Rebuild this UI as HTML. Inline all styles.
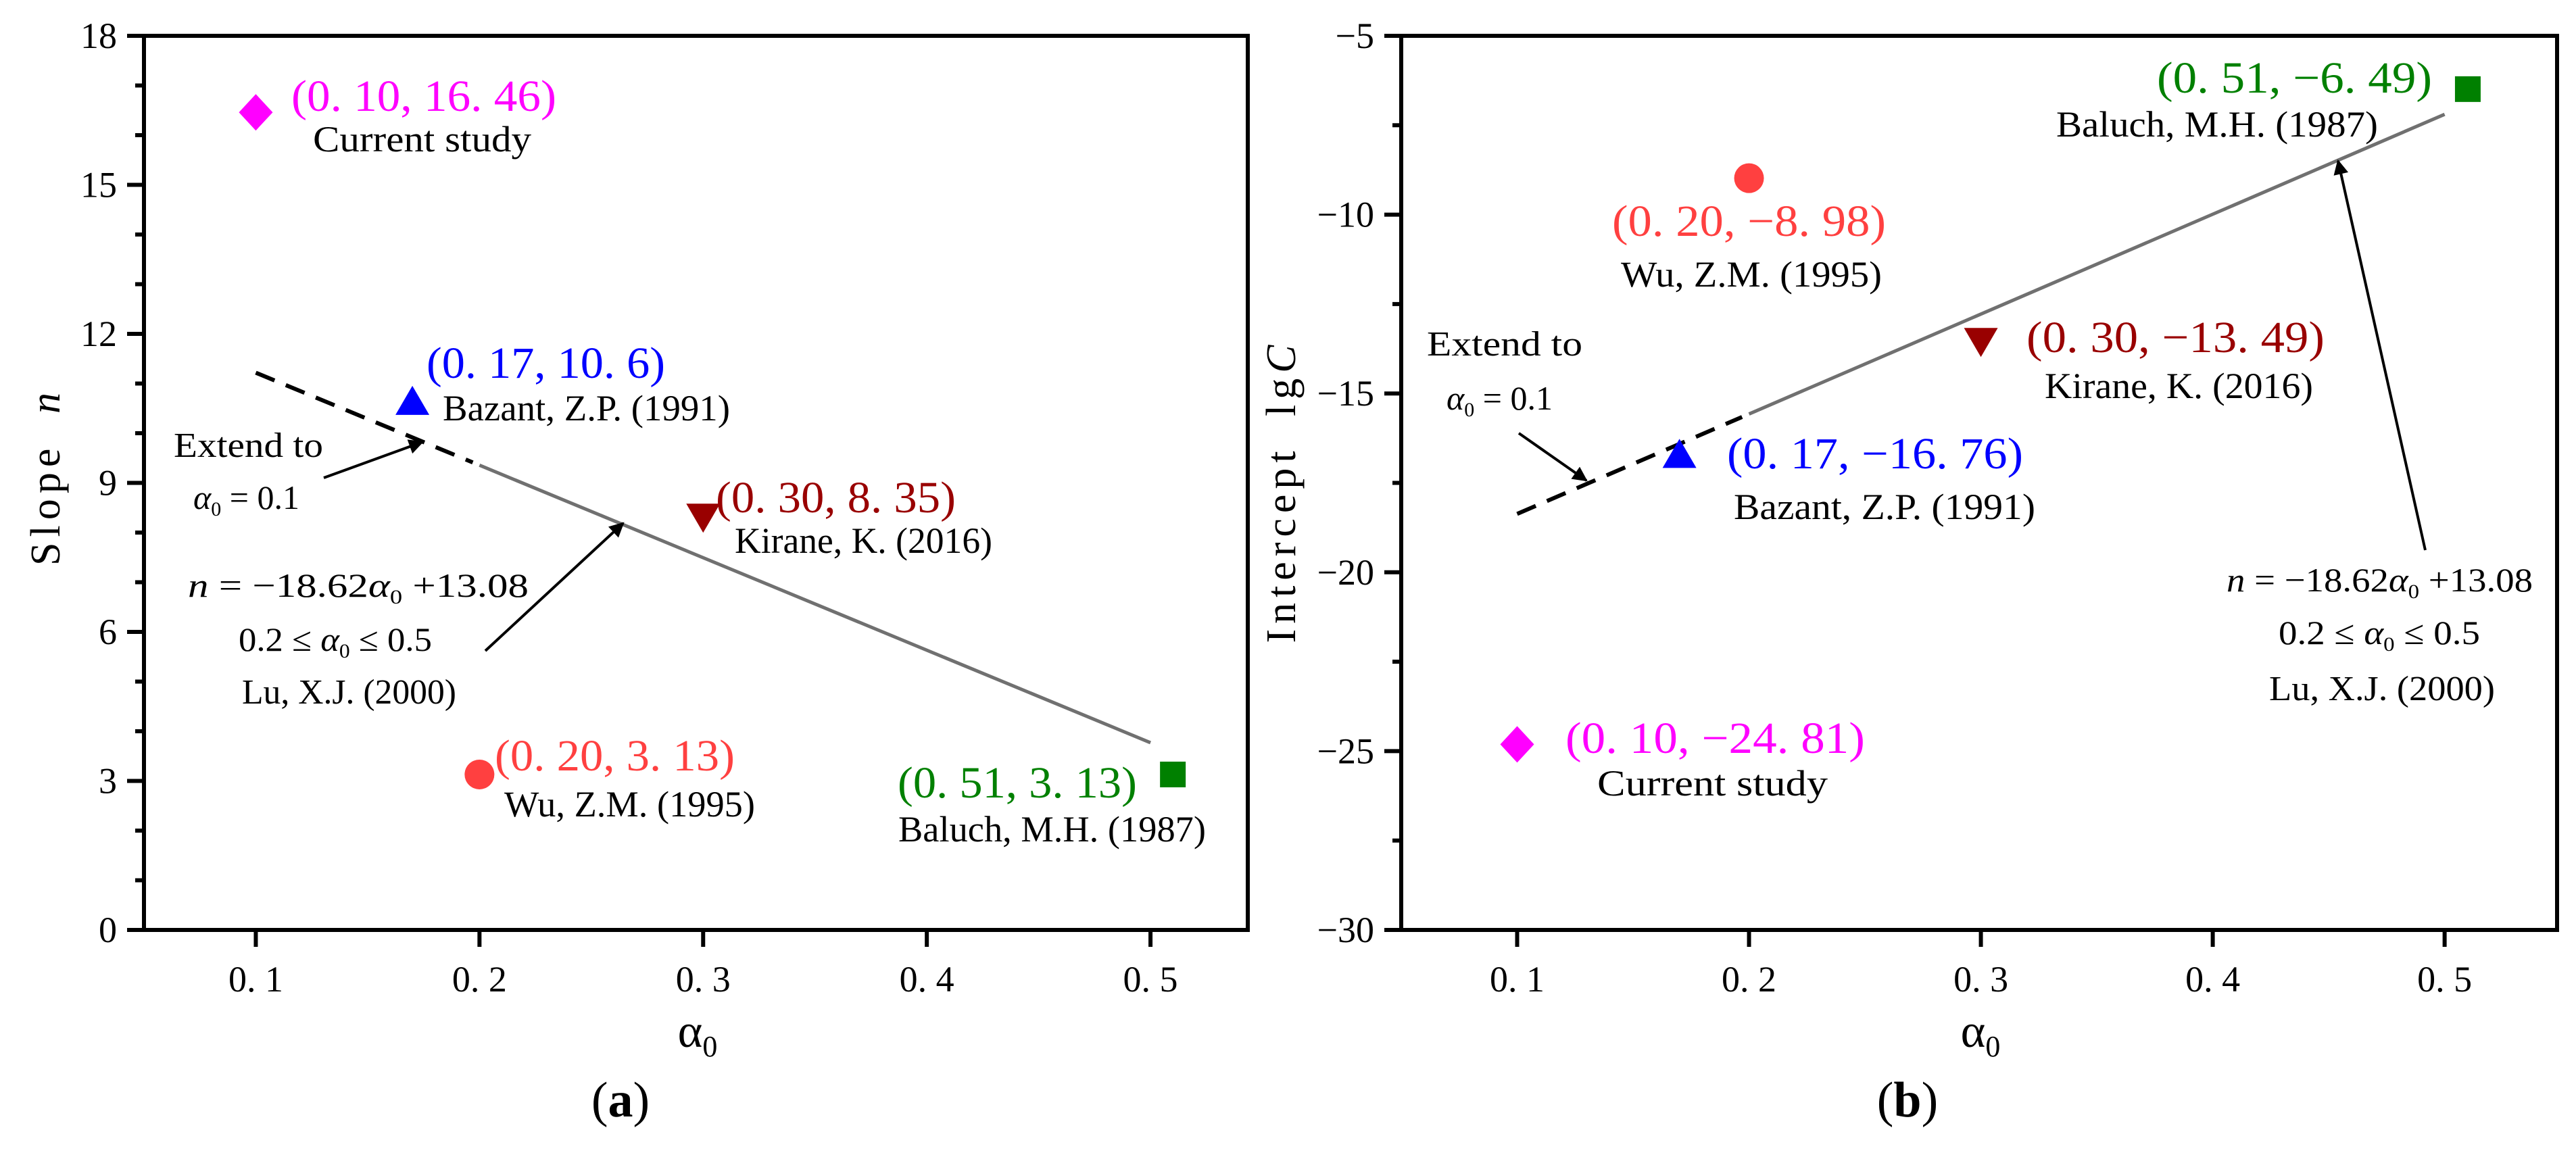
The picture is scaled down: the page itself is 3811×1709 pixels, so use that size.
<!DOCTYPE html>
<html><head><meta charset="utf-8">
<style>
html,body{margin:0;padding:0;background:#fff;}
svg{display:block;font-family:"Liberation Serif","DejaVu Serif",serif;}
</style></head>
<body>
<svg id="fig" width="3811" height="1709" viewBox="0 0 3811 1709" xmlns="http://www.w3.org/2000/svg">
<defs>
<marker id="ah2" viewBox="0 0 10 10" refX="9" refY="5" markerWidth="30" markerHeight="22" markerUnits="userSpaceOnUse" orient="auto">
<path d="M0,0 L10,5 L0,10 z" fill="#000"/>
</marker>
</defs>
<g id="pa"></g>
<g id="pb"></g>
</svg>
<script>
const NS="http://www.w3.org/2000/svg";
// Panel a data
const aAlpha=[0.10,0.17,0.30,0.20,0.51];
const aSlope=[16.46,10.6,8.35,3.13,3.13];
const aLabels=["(0. 10, 16. 46)","(0. 17, 10. 6)","(0. 30, 8. 35)","(0. 20, 3. 13)","(0. 51, 3. 13)"];
// Panel b data
const bAlpha=[0.10,0.17,0.30,0.20,0.51];
const bIntercept=[-24.81,-16.76,-13.49,-8.98,-6.49];
const bLabels=["(0. 10, −24. 81)","(0. 17, −16. 76)","(0. 30, −13. 49)","(0. 20, −8. 98)","(0. 51, −6. 49)"];
const sources=["Current study","Bazant, Z.P. (1991)","Kirane, K. (2016)","Wu, Z.M. (1995)","Baluch, M.H. (1987)"];
const xTicks=[0.1,0.2,0.3,0.4,0.5];
const xTickLabels=["0. 1","0. 2","0. 3","0. 4","0. 5"];
const aYTicks=[0,3,6,9,12,15,18];
const bYTicks=[-30,-25,-20,-15,-10,-5];
// fit lines
const aFitSlope=-18.62, aFitInt=13.08;
const bFitSlope=27.93, bFitInt=-21.16;

const colors=["#ff00ff","#0000ff","#990000","#ff4040","#008000"];
const shapes=["diamond","up","down","circle","square"];

function el(parent,tag,attrs,text){const e=document.createElementNS(NS,tag);for(const k in attrs)e.setAttribute(k,attrs[k]);if(text!==undefined)e.textContent=text;parent.appendChild(e);return e;}

function makeAxes(g,L,R,T,B,xd,yd,yTicks,yMinorStep){
  const sx=v=>L+(v-xd[0])/(xd[1]-xd[0])*(R-L);
  const sy=v=>B-(v-yd[0])/(yd[1]-yd[0])*(B-T);
  const frame=el(g,'rect',{x:L,y:T,width:R-L,height:B-T,fill:'none',stroke:'#000','stroke-width':6});
  
  
  xTicks.forEach((t,i)=>{
    const tk=el(g,'line',{x1:sx(t),x2:sx(t),y1:B,y2:B+25,stroke:'#000','stroke-width':6});
    
    
    const lb=el(g,'text',{x:sx(t),y:1467,'font-size':54,'text-anchor':'middle',fill:'#000'},xTickLabels[i]);
    
    
  });
  for(let v=yd[0];v<=yd[1]+1e-9;v+=yMinorStep){
    const major=yTicks.some(t=>Math.abs(t-v)<1e-6);
    const tk=el(g,'line',{x1:L-(major?25:13),x2:L,y1:sy(v),y2:sy(v),stroke:'#000','stroke-width':6});
    
    
  }
  yTicks.forEach(t=>{
    const lb=el(g,'text',{x:L-40,y:sy(t)+18,'font-size':54,'text-anchor':'end',fill:'#000'},String(t).replace('-','−'));
    
    
  });
  return {sx,sy};
}

function marker(g,shape,x,y,c){
  let m;
  if(shape==='diamond') m=el(g,'polygon',{points:`${x},${y-27} ${x+25},${y} ${x},${y+27} ${x-25},${y}`,fill:c});
  else if(shape==='up') m=el(g,'polygon',{points:`${x},${y-26} ${x+25},${y+17} ${x-25},${y+17}`,fill:c});
  else if(shape==='down') m=el(g,'polygon',{points:`${x},${y+26} ${x+25},${y-17} ${x-25},${y-17}`,fill:c});
  else if(shape==='circle') m=el(g,'circle',{cx:x,cy:y,r:22,fill:c});
  else m=el(g,'rect',{x:x-19,y:y-19,width:38,height:38,fill:c});
  
  
}

function txt(g,x,y,s,size,color,w,name,anchor){
  const a={x:x,y:y,'font-size':size,fill:color};
  if(w){a.textLength=w;a.lengthAdjust='spacingAndGlyphs';}
  if(anchor)a['text-anchor']=anchor;
  const t=el(g,'text',a,s);
  
  
  return t;
}
function eqText(g,x,y,w,name){
  const t=el(g,'text',{x:x,y:y,'font-size':50,fill:'#000',textLength:w,lengthAdjust:'spacingAndGlyphs'});
  
  
  t.innerHTML='<tspan font-style="italic">n</tspan> = −18.62<tspan font-style="italic">α</tspan><tspan font-size="30" dy="10">0</tspan><tspan dy="-10"> +13.08</tspan>';
}
function rangeText(g,x,y,w,name){
  const t=el(g,'text',{x:x,y:y,'font-size':50,fill:'#000',textLength:w,lengthAdjust:'spacingAndGlyphs'});
  
  
  t.innerHTML='0.2 ≤ <tspan font-style="italic">α</tspan><tspan font-size="30" dy="10">0</tspan><tspan dy="-10"> ≤ 0.5</tspan>';
}
function alphaEq(g,x,y,name){
  const t=el(g,'text',{x:x,y:y,'font-size':50,fill:'#000'});
  
  
  t.innerHTML='<tspan font-style="italic">α</tspan><tspan font-size="30" dy="10">0</tspan><tspan dy="-10"> = 0.1</tspan>';
}
function arrow(g,x1,y1,x2,y2,name){
  const a=el(g,'line',{x1:x1,y1:y1,x2:x2,y2:y2,stroke:'#000','stroke-width':4,'marker-end':'url(#ah2)'});
  
  
}
function xTitle(g,x,name){
  const t=el(g,'text',{x:x,y:1549,'font-size':70,'text-anchor':'middle',fill:'#000'});
  
  
  t.innerHTML='α<tspan font-size="44" dy="14">0</tspan>';
}
function panelLabel(g,x,l,name){
  const t=el(g,'text',{x:x,y:1652,'font-size':74,'text-anchor':'middle',fill:'#000'});
  
  
  t.innerHTML='(<tspan font-weight="bold">'+l+'</tspan>)';
}

// ---------- Panel a ----------
(function(){
  const g=document.getElementById('pa');
  const {sx,sy}=makeAxes(g,213,1846,53,1376,[0.05,0.5435],[0,18],aYTicks,1);
  const f=a=>aFitSlope*a+aFitInt;
  const d=el(g,'line',{x1:sx(0.1),y1:sy(f(0.1)),x2:sx(0.197),y2:sy(f(0.197)),stroke:'#000','stroke-width':6,'stroke-dasharray':'30 18'});
  
  
  const s=el(g,'line',{x1:sx(0.2),y1:sy(f(0.2)),x2:sx(0.5),y2:sy(f(0.5)),stroke:'#707070','stroke-width':5});
  
  
  aAlpha.forEach((a,i)=>marker(g,shapes[i],sx(a),sy(aSlope[i]),colors[i]));
  const lp=[[431,164,392],[631,559,353],[1059,758,355],[732,1140,355],[1328,1180,354]];
  const sp=[[463,224,323],[655,622,425],[1087,818,381],[746,1208,371],[1329,1245,455]];
  aLabels.forEach((l,i)=>txt(g,lp[i][0],lp[i][1],l,66,colors[i],lp[i][2],'point-label'));
  sources.forEach((l,i)=>txt(g,sp[i][0],sp[i][1],l,54,'#000',sp[i][2],'source-label'));
  txt(g,257,676,'Extend to',52,'#000',221,'extend-note');
  alphaEq(g,286,753,'extend-alpha-note');
  arrow(g,479,707,625,654,'extend-arrow');
  eqText(g,278,883,504,'fit-equation');
  rangeText(g,353,963,286,'fit-range');
  txt(g,358,1041,'Lu, X.J. (2000)',52,'#000',317,'fit-source');
  arrow(g,718,963,922,774,'fit-arrow');
  const yt=el(g,'text',{x:0,y:0,'font-size':62,'text-anchor':'middle',fill:'#000',transform:'translate(88,709) rotate(-90)',textLength:256,lengthAdjust:'spacing'});
  
  
  yt.innerHTML='Slope <tspan font-style="italic" dx="20">n</tspan>';
  xTitle(g,1032,'x-axis-title');
  panelLabel(g,918,'a','panel-label-a');
})();

// ---------- Panel b ----------
(function(){
  const g=document.getElementById('pb');
  const {sx,sy}=makeAxes(g,2073,3783,53,1376,[0.05,0.5485],[-30,-5],bYTicks,2.5);
  const f=a=>bFitSlope*a+bFitInt;
  const d=el(g,'line',{x1:sx(0.1),y1:sy(f(0.1)),x2:sx(0.197),y2:sy(f(0.197)),stroke:'#000','stroke-width':6,'stroke-dasharray':'30 18'});
  
  
  const s=el(g,'line',{x1:sx(0.2),y1:sy(f(0.2)),x2:sx(0.5),y2:sy(f(0.5)),stroke:'#707070','stroke-width':5});
  
  
  bAlpha.forEach((a,i)=>marker(g,shapes[i],sx(a),sy(bIntercept[i]),colors[i]));
  const lp=[[2316,1114,443],[2555,693,438],[2998,521,441],[2385,349,405],[3191,137,407]];
  const sp=[[2363,1177,341],[2565,768,446],[3025,589,397],[2398,424,386],[3042,202,476]];
  bLabels.forEach((l,i)=>txt(g,lp[i][0],lp[i][1],l,66,colors[i],lp[i][2],'point-label'));
  sources.forEach((l,i)=>txt(g,sp[i][0],sp[i][1],l,54,'#000',sp[i][2],'source-label'));
  txt(g,2111,526,'Extend to',52,'#000',230,'extend-note');
  alphaEq(g,2140,606,'extend-alpha-note');
  arrow(g,2247,641,2347,711,'extend-arrow');
  eqText(g,3294,875,453,'fit-equation');
  rangeText(g,3371,953,298,'fit-range');
  txt(g,3357,1036,'Lu, X.J. (2000)',52,'#000',334,'fit-source');
  arrow(g,3588,814,3459,238,'fit-arrow');
  const yt=el(g,'text',{x:0,y:0,'font-size':62,'text-anchor':'middle',fill:'#000',transform:'translate(1916,731) rotate(-90)',textLength:441,lengthAdjust:'spacing'});
  
  
  yt.innerHTML='Intercept <tspan dx="20">lg</tspan><tspan font-style="italic">C</tspan>';
  xTitle(g,2930,'x-axis-title');
  panelLabel(g,2822,'b','panel-label-b');
})();
</script>
</body></html>
